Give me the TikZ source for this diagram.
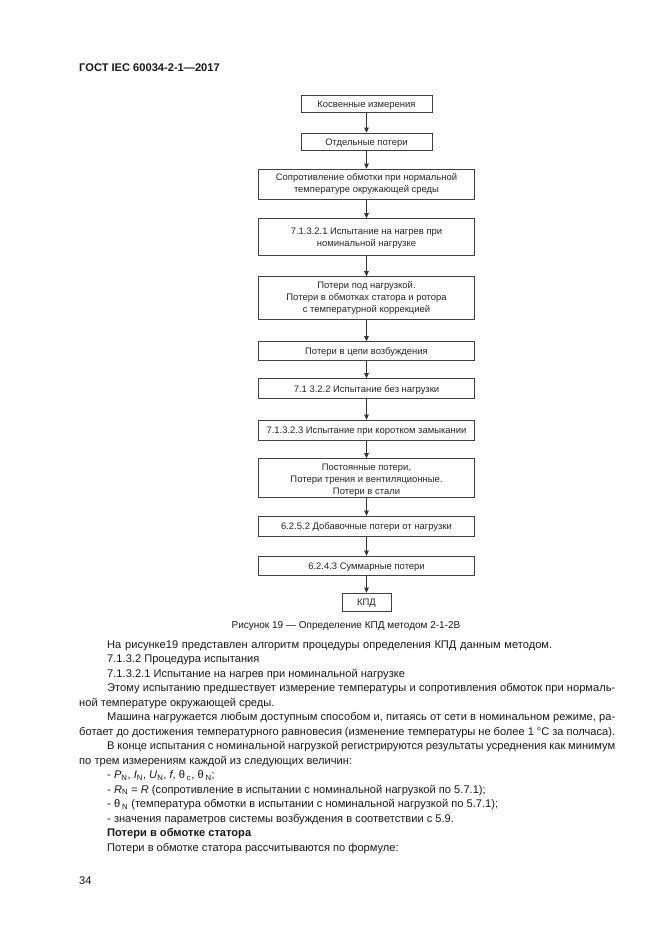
\documentclass[tikz,border=0pt]{standalone}
\usepackage{fontspec}
\setmainfont{Liberation Sans}
\usetikzlibrary{arrows.meta}
\newlength\px \setlength\px{0.9pt}
\begin{document}
\begin{tikzpicture}[x=1\px,y=-1\px,
  box/.style={draw=black!75, line width=0.6pt, inner sep=0pt},
  wide/.style={box, minimum width=216\px},
  narrow/.style={box, minimum width=131\px},
  boxtext/.style={inner sep=0pt, align=center, font=\fontsize{8.5}{11}\selectfont, text=black!85},
  arr/.style={draw=black!80, line width=0.6pt, -{Triangle[length=4.5pt,width=4pt]}},
  body/.style={anchor=base west, inner sep=0pt, font=\fontsize{10}{13}\selectfont, text=black!90}]
\fill[white] (0,0) rectangle (661,935);
\useasboundingbox (0,0) rectangle (661,935);

\node[body, font=\fontsize{10}{13}\selectfont\bfseries] (hdr) at (79,71) {ГОСТ IEC 60034-2-1—2017};

\node[narrow, minimum height=17\px, label={[boxtext, yshift=-1.5\px]center:{Косвенные измерения}}] (b1) at (366.5,103.5) {};
\node[narrow, minimum height=17\px, label={[boxtext, yshift=-1.5\px]center:{Отдельные потери}}] (b2) at (366.5,141.5) {};
\node[wide, minimum height=30\px, label={[boxtext]center:{Сопротивление обмотки при нормальной\\температуре окружающей среды}}] (b3) at (366.5,184) {};
\node[wide, minimum height=37\px] (b4) at (366.5,237) {};
\node[boxtext, anchor=north] (t4) at ([yshift=-9.5\px]b4.north) {7.1.3.2.1 Испытание на нагрев при\\номинальной нагрузке};
\node[wide, minimum height=43\px, label={[boxtext]center:{Потери под нагрузкой.\\Потери в обмотках статора и ротора\\с температурной коррекцией}}] (b5) at (366.5,298) {};
\node[wide, minimum height=19\px, label={[boxtext, yshift=-1.5\px]center:{Потери в цепи возбуждения}}] (b6) at (366.5,351) {};
\node[wide, minimum height=20\px, label={[boxtext, yshift=-1.5\px]center:{7.1 3.2.2 Испытание без нагрузки}}] (b7) at (366.5,388.5) {};
\node[wide, minimum height=20\px, label={[boxtext, yshift=-1.5\px]center:{7.1.3.2.3 Испытание при коротком замыкании}}] (b8) at (366.5,430) {};
\node[wide, minimum height=39\px, label={[boxtext, yshift=-2.5\px]center:{Постоянные потери,\\Потери трения и вентиляционные.\\Потери в стали}}] (b9) at (366.5,478) {};
\node[wide, minimum height=20\px, label={[boxtext, yshift=-1.5\px]center:{6.2.5.2 Добавочные потери от нагрузки}}] (b10) at (366.5,526) {};
\node[wide, minimum height=19\px, label={[boxtext, yshift=-1.5\px]center:{6.2.4.3 Суммарные потери}}] (b11) at (366.5,565.5) {};
\node[box, minimum width=49\px, minimum height=18\px, label={[boxtext, yshift=-1.5\px]center:{КПД}}] (b12) at (366.5,602) {};

\foreach \a/\b in {b1/b2,b2/b3,b3/b4,b4/b5,b5/b6,b6/b7,b7/b8,b8/b9,b9/b10,b10/b11,b11/b12}
  \draw[arr] (\a.south) -- (\b.north);

\node[body, anchor=base, font=\fontsize{9}{12}\selectfont] (cap) at (346,628.5) {Рисунок 19 — Определение КПД методом 2-1-2В};

\node[body] (l1) at (107,648) {\makebox[445\px][s]{На рисунке19 представлен алгоритм процедуры определения КПД данным методом.}};
\node[body] (l2) at (107,662.5) {7.1.3.2 Процедура испытания};
\node[body] (l3) at (107,677) {7.1.3.2.1 Испытание на нагрев при номинальной нагрузке};
\node[body] (l4) at (107,691.5) {\makebox[508\px][s]{Этому испытанию предшествует измерение температуры и сопротивления обмоток при нормаль-}};
\node[body] (l5) at (79,706) {ной температуре окружающей среды.};
\node[body] (l6) at (107,720.5) {\makebox[508\px][s]{Машина нагружается любым доступным способом и, питаясь от сети в номинальном режиме, ра-}};
\node[body] (l7) at (79,735) {\makebox[536\px][s]{ботает до достижения температурного равновесия (изменение температуры не более 1 °С за полчаса).}};
\node[body] (l8) at (107,749.5) {\makebox[508\px][s]{В конце испытания с номинальной нагрузкой регистрируются результаты усреднения как минимум}};
\node[body] (l9) at (79,764) {по трем измерениям каждой из следующих величин:};
\node[body] (l10) at (107,778.5) {- \textit{P}\textsubscript{N}, \textit{I}\textsubscript{N}, \textit{U}\textsubscript{N}, \textit{f}, θ\,\textsubscript{c}, θ\,\textsubscript{N};};
\node[body] (l11) at (107,793) {- \textit{R}\textsubscript{N} = \textit{R} (сопротивление в испытании с номинальной нагрузкой по 5.7.1);};
\node[body] (l12) at (107,807.5) {- θ\,\textsubscript{N} (температура обмотки в испытании с номинальной нагрузкой по 5.7.1);};
\node[body] (l13) at (107,822) {- значения параметров системы возбуждения в соответствии с 5.9.};
\node[body, font=\fontsize{10}{13}\selectfont\bfseries] (l14) at (107,836.5) {Потери в обмотке статора};
\node[body] (l15) at (107,851) {Потери в обмотке статора рассчитываются по формуле:};
\node[body] (pg) at (79,884) {34};
\end{tikzpicture}
\end{document}
